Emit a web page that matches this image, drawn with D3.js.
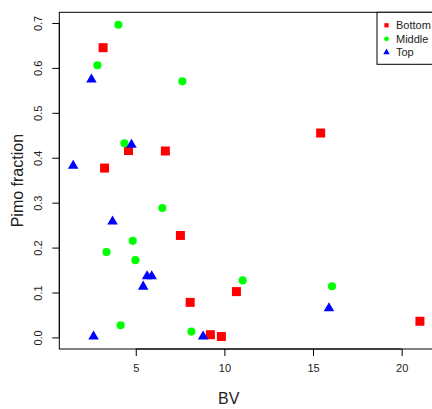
<!DOCTYPE html>
<html>
<head>
<meta charset="utf-8">
<script src="https://cdn.jsdelivr.net/npm/d3@7"></script>
<style>
  body { margin: 0; background: #fff; }
  svg { display: block; font-family: "Liberation Sans", Arial, sans-serif; }
</style>
</head>
<body>
<svg id="chart"></svg>
<script>
// values
const bottomBV = [3.16, 4.59, 6.67, 3.24, 15.43, 7.52, 8.07, 9.21, 9.83, 10.68, 21.03];
const bottomPimo = [0.645, 0.416, 0.415, 0.377, 0.455, 0.227, 0.078, 0.006, 0.002, 0.102, 0.036];
const middleBV = [4.02, 2.84, 7.63, 4.36, 6.5, 4.83, 3.35, 4.98, 4.15, 8.14, 11.03, 16.07];
const middlePimo = [0.696, 0.606, 0.570, 0.432, 0.288, 0.215, 0.190, 0.172, 0.027, 0.013, 0.127, 0.114];
const topBV = [2.5, 4.76, 1.47, 3.69, 5.64, 5.9, 5.42, 2.62, 8.8, 15.9];
const topPimo = [0.574, 0.429, 0.382, 0.258, 0.136, 0.136, 0.113, 0.002, 0.002, 0.065];
const groupNames = ['Bottom', 'Middle', 'Top'];
const groupColors = ['#ff0000', '#00ff00', '#0000ff'];
const xTicks = [5, 10, 15, 20];
const yTicks = [0, 0.1, 0.2, 0.3, 0.4, 0.5, 0.6, 0.7];

const width = 432, height = 409;
const margin = { top: 12.3, right: -1.8, bottom: 60, left: 59.3 };

const groups = [
  { name: groupNames[0], color: groupColors[0], shape: d3.symbolSquare, size: 81, bv: bottomBV, pimo: bottomPimo },
  { name: groupNames[1], color: groupColors[1], shape: d3.symbolCircle, size: 52, bv: middleBV, pimo: middlePimo },
  { name: groupNames[2], color: groupColors[2], shape: d3.symbolTriangle, size: 48, bv: topBV, pimo: topPimo }
];

// R style 4% padding on both axes
function padded(values) {
  const [lo, hi] = d3.extent(values);
  const p = (hi - lo) * 0.04;
  return [lo - p, hi + p];
}
const allBV = bottomBV.concat(middleBV, topBV);
const allPimo = bottomPimo.concat(middlePimo, topPimo);

const svg = d3.select('#chart').attr('width', width).attr('height', height);

const x = d3.scaleLinear().domain(padded(allBV)).range([margin.left, width - margin.right]);
const y = d3.scaleLinear().domain(padded(allPimo)).range([height - margin.bottom, margin.top]);

const axisColor = '#000';

// plot box
svg.append('rect')
  .attr('x', x.range()[0]).attr('y', y.range()[1])
  .attr('width', x.range()[1] - x.range()[0])
  .attr('height', y.range()[0] - y.range()[1])
  .attr('fill', 'none').attr('stroke', axisColor).attr('stroke-width', 1);

// x axis
const xAxis = svg.append('g')
  .attr('transform', `translate(0,${y.range()[0]})`)
  .call(d3.axisBottom(x).tickValues(xTicks).tickFormat(d3.format('d')).tickSize(7).tickPadding(8));
xAxis.select('.domain').attr('d', `M${x(xTicks[0])},0H${x(xTicks[xTicks.length - 1])}`);
xAxis.selectAll('text').attr('font-size', 11).attr('fill', '#222').attr('font-family', null);

// y axis
const yAxis = svg.append('g')
  .attr('transform', `translate(${x.range()[0]},0)`)
  .call(d3.axisLeft(y).tickValues(yTicks).tickFormat(d3.format('.1f')).tickSize(7));
yAxis.select('.domain').attr('d', `M0,${y(yTicks[0])}V${y(yTicks[yTicks.length - 1])}`);
yAxis.selectAll('text')
  .attr('font-size', 11).attr('fill', '#222').attr('font-family', null)
  .attr('x', null).attr('dy', null)
  .attr('text-anchor', 'middle')
  .attr('transform', 'translate(-17,0) rotate(-90)');

// axis titles
svg.append('text')
  .attr('x', (x(xTicks[0]) + x(xTicks[xTicks.length - 1])) / 2 - 40)
  .attr('y', 404)
  .attr('text-anchor', 'middle')
  .attr('font-size', 16).attr('fill', '#222')
  .text('BV');

svg.append('text')
  .attr('transform', `translate(23,${(y.range()[0] + y.range()[1]) / 2}) rotate(-90)`)
  .attr('text-anchor', 'middle')
  .attr('font-size', 16).attr('fill', '#222')
  .text('Pimo fraction');

// points
groups.forEach(g => {
  svg.append('g').selectAll('path')
    .data(g.bv.map((v, i) => [v, g.pimo[i]]))
    .join('path')
    .attr('d', d3.symbol().type(g.shape).size(g.size))
    .attr('transform', d => `translate(${x(d[0])},${y(d[1])})`)
    .attr('fill', g.color);
});

// legend
const legend = svg.append('g').attr('transform', `translate(377,${y.range()[1]})`);
legend.append('rect')
  .attr('x', 0).attr('y', 0).attr('width', 80).attr('height', 52)
  .attr('fill', '#fff').attr('stroke', axisColor);
groups.forEach((g, i) => {
  const row = legend.append('g').attr('transform', `translate(0,${13 + i * 13.5})`);
  row.append('path')
    .attr('d', d3.symbol().type(g.shape).size(18))
    .attr('transform', 'translate(9.5,0)')
    .attr('fill', g.color);
  row.append('text')
    .attr('x', 19).attr('dy', '0.35em')
    .attr('font-size', 11).attr('fill', '#222')
    .text(g.name);
});
</script>
</body>
</html>
